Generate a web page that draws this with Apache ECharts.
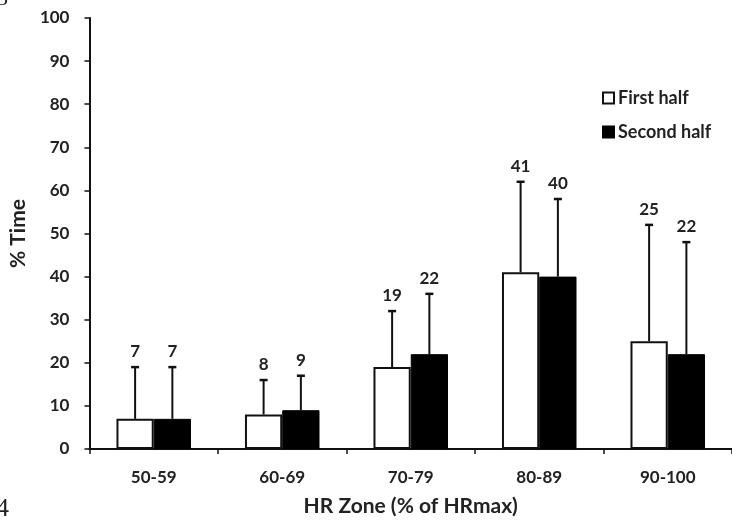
<!DOCTYPE html>
<html><head><meta charset="utf-8">
<script src="https://cdn.jsdelivr.net/npm/echarts@6/dist/echarts.min.js"></script>
<style>html,body{margin:0;padding:0;background:#fff}#c{width:732px;height:522px}</style>
</head><body><div id="c"></div>
<script>
var categories = ['50-59','60-69','70-79','80-89','90-100'];
var firstHalf = [7, 8, 19, 41, 25];
var secondHalf = [7, 9, 22, 40, 22];
var firstHalfTop = [19, 16, 32, 62, 52];
var secondHalfTop = [19, 17, 36, 58, 48];
var yTicks = {min: 0, max: 100, interval: 10};

var FONT = 'Lato';
var BARW = 0.29;

function errSeries(name, means, tops, side) {
  return {
    type: 'custom',
    name: name + ' err',
    z: 5,
    data: categories.map(function (c, i) { return [i, means[i], tops[i]]; }),
    renderItem: function (params, api) {
      var i = api.value(0);
      var band = api.size([1, 0])[0];
      var off = side * band * BARW / 2;
      var p0 = api.coord([i, api.value(1)]);
      var p1 = api.coord([i, api.value(2)]);
      var x = p0[0] + off;
      return {
        type: 'group',
        children: [
          {type: 'line', shape: {x1: x, y1: p0[1], x2: x, y2: p1[1]}, style: {stroke: '#111', lineWidth: 2}},
          {type: 'line', shape: {x1: x - 4, y1: p1[1], x2: x + 4, y2: p1[1]}, style: {stroke: '#111', lineWidth: 2.5}},
          {type: 'text', style: {text: String(api.value(1)), x: x, y: p1[1] - 7, align: 'center', verticalAlign: 'bottom',
            font: 'bold 17px ' + FONT, fill: '#222'}}
        ]
      };
    }
  };
}

var chart = echarts.init(document.getElementById('c'));
chart.setOption({
  animation: false,
  backgroundColor: '#fff',
  grid: {left: 83, right: -2, top: 18, bottom: 73, containLabel: false},
  legend: {
    data: ['First half', 'Second half'],
    orient: 'vertical',
    left: 602, top: 89,
    padding: 0,
    itemWidth: 11, itemHeight: 11, itemGap: 16,
    icon: 'rect',
    textStyle: {fontFamily: FONT, fontWeight: 'bold', fontSize: 18, color: '#222', padding: [0, 0, 0, -1]}
  },
  xAxis: {
    type: 'category',
    data: categories,
    name: 'HR Zone (% of HRmax)',
    nameLocation: 'middle',
    nameGap: 47,
    nameTextStyle: {fontFamily: FONT, fontWeight: 'bold', fontSize: 21, color: '#222'},
    axisLine: {lineStyle: {color: '#111', width: 2}},
    axisTick: {show: true, length: 5, lineStyle: {color: '#111', width: 1.5}},
    axisLabel: {fontFamily: FONT, fontWeight: 'bold', fontSize: 17, color: '#222', margin: 20}
  },
  yAxis: {
    type: 'value',
    min: yTicks.min, max: yTicks.max, interval: yTicks.interval,
    name: '% Time',
    nameLocation: 'middle',
    nameGap: 52,
    nameTextStyle: {fontFamily: FONT, fontWeight: 'bold', fontSize: 21, color: '#222'},
    axisLine: {show: true, lineStyle: {color: '#111', width: 2}},
    axisTick: {show: true, length: 5, lineStyle: {color: '#111', width: 1.5}},
    splitLine: {show: false},
    axisLabel: {fontFamily: FONT, fontWeight: 'bold', fontSize: 17, color: '#222', margin: 20}
  },
  series: [
    {name: 'First half', type: 'bar', data: firstHalf, barWidth: (BARW * 100) + '%', barGap: '0%',
      itemStyle: {color: '#fff', borderColor: '#111', borderWidth: 2}},
    {name: 'Second half', type: 'bar', data: secondHalf, barWidth: (BARW * 100) + '%', barGap: '0%',
      itemStyle: {color: '#000', borderColor: '#000', borderWidth: 1}},
    errSeries('First half', firstHalf, firstHalfTop, -1),
    errSeries('Second half', secondHalf, secondHalfTop, 1)
  ],
  graphic: [
    {type: 'text', left: -3, top: -12, style: {text: '3', font: '22px "Liberation Serif"', fill: '#222'}},
    {type: 'text', left: -4, top: 496, style: {text: '4', font: '26px "Liberation Serif"', fill: '#222'}}
  ]
});
</script></body></html>
